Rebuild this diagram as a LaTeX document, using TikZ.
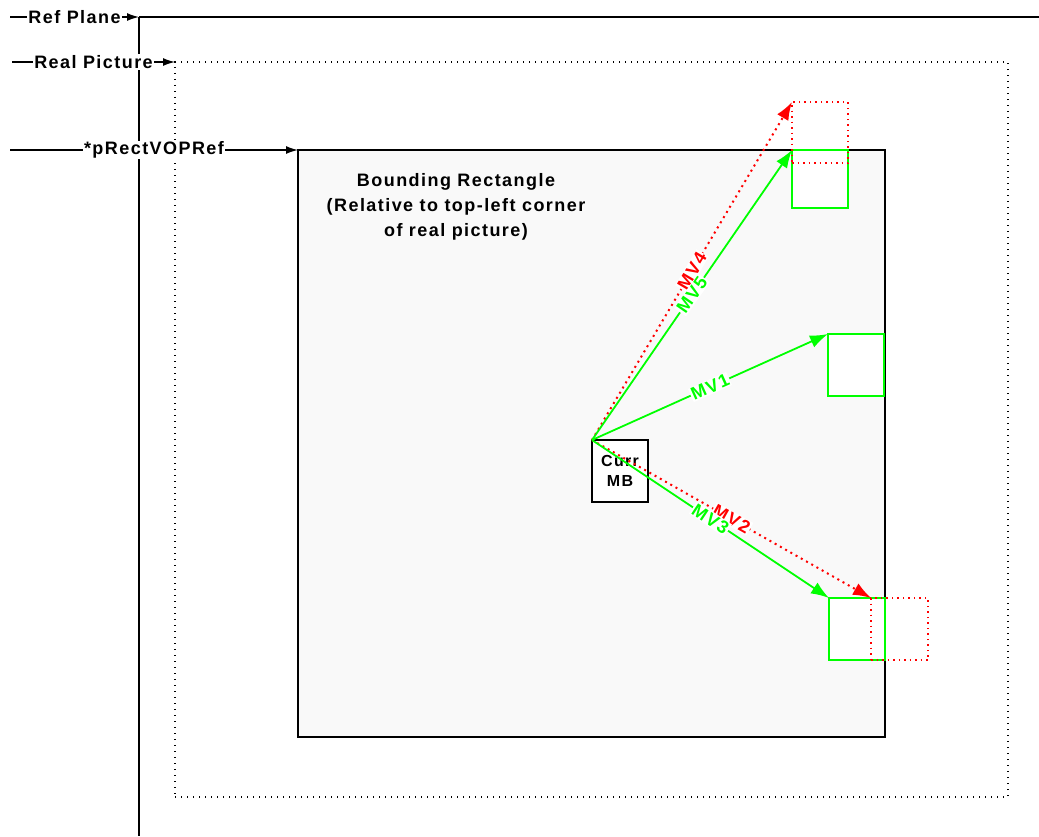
\documentclass[tikz,border=0pt]{standalone}
\usepackage{fontspec}
\setmainfont{Liberation Sans}[LetterSpace=8]
\usetikzlibrary{arrows.meta}
\definecolor{Lime}{rgb}{0,1,0}
\definecolor{Shade}{rgb}{0.976,0.976,0.976}
\newcommand\lbl{\fontsize{18}{25}\selectfont\bfseries}
\newcommand\green[1]{\textcolor{Lime}{#1}}
\newcommand\red[1]{\textcolor{red}{#1}}

\begin{document}
\begin{tikzpicture}[x=1pt,y=-1pt,
  plane/.style={line width=1.4pt},
  pointer/.style={line width=1.4pt,-{Latex[length=12pt,width=8pt]}},
  tag/.style={fill=white,inner sep=1pt,font=\lbl},
  frame/.style={anchor=north west,inner sep=0pt,outer sep=0pt},
  mvgreen/.style={draw=Lime,line width=1.8pt,-{Latex[length=18pt,width=13pt]}},
  mvred/.style={draw=red,line width=2pt,dash pattern=on 2pt off 4pt,-{Latex[length=18pt,width=13pt]}},
  mvtag/.style={sloped,fill=white,inner sep=1pt,font=\lbl},
  blockgreen/.style={frame,draw=Lime,line width=1.4pt,fill=white},
  blockred/.style={frame,draw=red,line width=1.4pt,dash pattern=on 1.5pt off 4pt}]
\useasboundingbox (0,0) rectangle (1039,836);
\coordinate (planecorner) at (139,17);
\coordinate (planeright) at (1039,17);
\coordinate (planebottom) at (139,836);
\coordinate (planetag) at (10,17);
\coordinate (pictag) at (12,62);
\coordinate (voptag) at (10,150);
\draw[plane] (planecorner) -- (planeright);
\draw[plane] (planecorner) -- (planebottom);
\node[frame,draw,line width=1.2pt,dash pattern=on 1.2pt off 4.8pt,minimum width=833,minimum height=735] (realpic) at (175,62) {};
\node[frame,draw,fill=Shade,line width=1.4pt,minimum width=587,minimum height=587] (vopref) at (298,150) {};
\node[font=\lbl,align=center] (voplabel) at (456,207) {Bounding Rectangle\\(Relative to top-left corner\\of real picture)};
\draw[pointer] (planetag) -- node[tag] {Ref Plane} (planecorner);
\draw[pointer] (pictag) -- node[tag] {Real Picture} (realpic.north west);
\draw[pointer] (voptag) -- node[tag] {*pRectVOPRef} (vopref.north west);
\node[blockgreen,minimum width=56,minimum height=58] (mv5box) at (792,150) {};
\node[blockgreen,minimum width=56,minimum height=62] (mv1box) at (828,334) {};
\node[blockgreen,minimum width=56,minimum height=62] (mv3box) at (829,598) {};
\node[blockred,minimum width=56,minimum height=61] (mv4box) at (792,102) {};
\node[blockred,minimum width=57,minimum height=62] (mv2box) at (871,598) {};
\node[frame,draw,fill=white,line width=1.4pt,minimum width=56,minimum height=62,font=\fontsize{16}{20}\selectfont\bfseries,align=center] (currmb) at (592,440) {Curr\\MB};
\draw[mvred] (currmb.north west) -- node[mvtag] {\red{MV4}} (mv4box.north west);
\draw[mvred] (currmb.north west) -- node[mvtag] {\red{MV2}} (mv2box.north west);
\draw[mvgreen] (currmb.north west) -- node[mvtag] {\green{MV5}} (mv5box.north west);
\draw[mvgreen] (currmb.north west) -- node[mvtag] {\green{MV1}} (mv1box.north west);
\draw[mvgreen] (currmb.north west) -- node[mvtag] {\green{MV3}} (mv3box.north west);
\end{tikzpicture}
\end{document}
